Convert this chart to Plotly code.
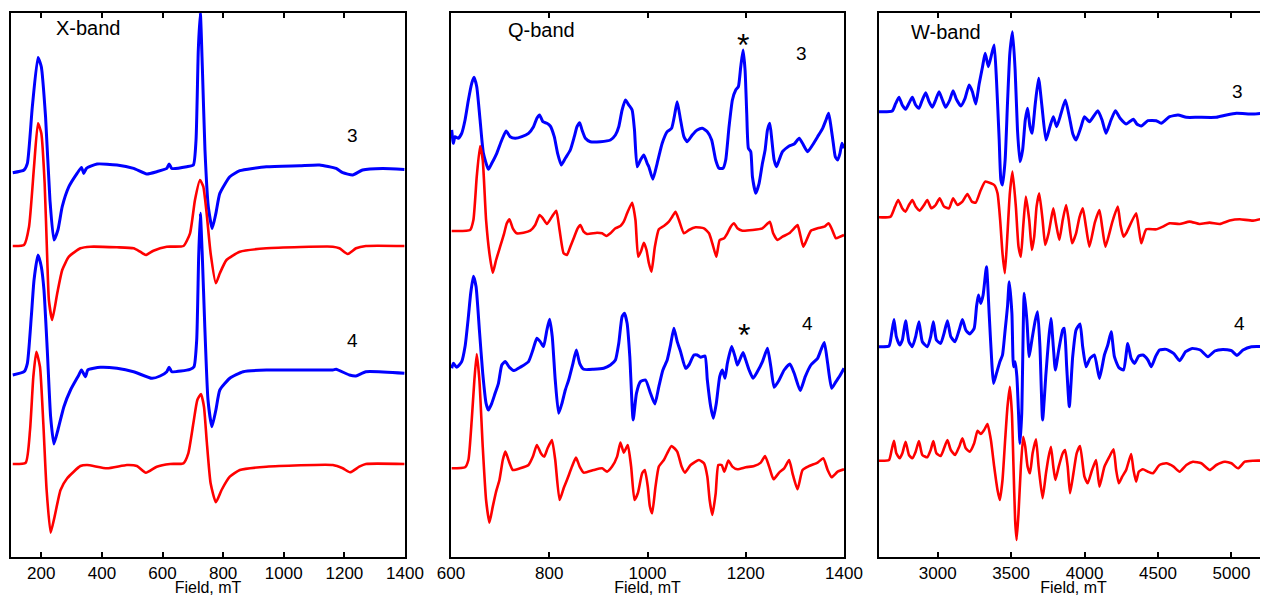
import plotly.graph_objects as go

# ---------------- data (field in mT, intensity in arbitrary units relative to baseline) -------------
# X-band
x_blue3 = [(105.8,0),(143,2.7),(154,9.3),(170.4,66),(189,115.3),(200,106),(214,56),(228.5,-27.3),(241.6,-67.3),
           (254.8,-57.3),(269,-34),(291,-14),(318,-0.7),(332.5,5.3),(340,-0.7),(349,4.3),(384,8.7),(449.7,7.7),
           (504.5,4.3),(548,-1.3),(581,1),(614,4.3),(621.7,8.7),(630.5,4.3),(680,6),(701.7,7.7),(710.5,32.7),
           (718,122.7),(724.7,160),(731.3,106),(740,22.7),(751,-34),(764,-55.7),(776,-40.7),(789,-20.7),(822,-4),
           (855,2),(942.7,6),(1052,7),(1118,7.7),(1172.7,4.3),(1194.6,0),(1227.5,-2.3),(1260,2.7),(1326,4.3),(1398,3.3)]
x_red3 = [(105.8,0),(143,1),(159.5,19.3),(176,79.3),(189,122.7),(200,112.7),(211,62.7),(219.7,-14),(225,-54),
          (236,-74),(252.6,-47.3),(269,-24),(291,-10.7),(329,-2.3),(362,-0.7),(449.7,-1.3),(504.5,-2.3),(526,-5.7),
          (545,-9),(570,-4.7),(614,-0.7),(669,0),(690.7,12.7),(707,46),(723.6,66),(734.5,59.3),(745.5,32.7),
          (758.6,-7.3),(776,-37.3),(789,-27.3),(811,-14),(855,-5.7),(942.7,-2.3),(1161.8,-0.7),(1183.6,-2.3),
          (1211,-8),(1238.4,-2.3),(1271,0),(1398,0)]
x_blue4 = [(105.8,-1),(143,2.3),(154,10.7),(167,57.3),(176,94),(189,119),(200,107.3),(208.8,84),(219.7,24),
           (230.7,-42.7),(241.6,-70),(254.8,-56),(274.5,-32.7),(296.4,-16),(323.8,-1),(332.5,4),(345.7,-2.7),
           (353.4,4),(395,6.7),(449.7,5.7),(504.5,2.3),(564.8,-4.3),(592,-2),(614,2.3),(621.7,6.7),(630.5,2.3),
           (690.7,4.7),(703.9,7.3),(712.7,34),(719.2,117.3),(724.7,160.7),(731.3,117.3),(739,50.7),(750,-26),
           (763,-52.7),(776,-36),(789,-16),(822,-4.3),(866,2.3),(942.7,4),(1161.8,4),(1172.7,4.7),(1216.6,-1),
           (1238.4,-2),(1271,2.3),(1398,0.7)]
x_red4 = [(105.8,0),(148.5,1.3),(162.8,34),(173.7,87.3),(183.6,112.3),(195.6,97.3),(206.6,40.7),(217.5,-26),
          (230.7,-68.7),(243.8,-52.7),(263.5,-26),(285.4,-14.3),(329,-2),(351,-1),(417,-4.3),(482.6,-1),
          (515.5,-2),(545,-8.7),(581,-2.7),(625,0),(668.8,0.7),(685,10.7),(701.7,40.7),(714.8,64),(726.9,70),
          (736.7,57.3),(745.5,24),(758.6,-19.3),(776,-38.3),(794.8,-26),(822,-12.7),(855,-6),(942.7,-2.7),
          (1161.8,-1),(1194.6,-4.3),(1218.7,-8.3),(1249,-2.7),(1271,0),(1398,0)]

# Q-band
q_blue3 = [(601.4,5),(604.8,-8.3),(608.2,-1.7),(615,-3.3),(621.8,1.7),(628.6,15),(635.4,35),(642.2,51.7),
           (646.9,57.7),(652.4,48.3),(659.2,15),(666,-18.3),(676.2,-34.3),(683,-28.3),(693.2,-18.3),(703.4,-5),
           (712.2,4),(720.4,-1.7),(730.6,-3.3),(744.2,-1.7),(757.8,1.7),(768,8.3),(774.8,16.7),(780.3,20),
           (787.1,13.3),(795.2,11.7),(802,9),(810.2,-1.7),(817,-18.3),(824.5,-30),(832.7,-23.3),(842.9,-15),
           (851,-1.7),(856.5,8.3),(861.9,12.3),(866.7,5),(873.5,-3.3),(883.7,-6.7),(904.1,-6.7),(924.5,-5),
           (934.7,0),(941.5,8.3),(948.3,25),(955.1,35),(961.9,30),(968.7,25),(973.5,5),(978.9,-31.7),(985.7,-25),
           (992.5,-20),(999.3,-28.3),(1002.7,-31.7),(1010.9,-44.3),(1019.7,-28.3),(1029.9,-8.3),(1040.1,3.3),
           (1049,6.7),(1055.8,21.7),(1060.5,33.3),(1067.3,15),(1074.1,-1.7),(1080.9,-6.7),(1091.1,0),(1101.3,5),
           (1111.6,6.7),(1121.8,3.3),(1130.6,-5),(1138.8,-25),(1145.6,-33.3),(1153.7,-33.3),(1159.2,-25),
           (1166,8.3),(1172.8,35),(1179.6,45),(1185,48.3),(1189.8,68.3),(1194.5,85),(1198.6,65),(1202,21.7),
           (1205.4,-13.3),(1210.2,-16.7),(1213.6,-41.7),(1220.4,-58.3),(1227.2,-48.3),(1234,-28.3),(1239.4,-15),
           (1244.2,5),(1249,11.7),(1253.1,-5),(1257.8,-25),(1262.6,-31.7),(1268,-25),(1274.8,-16.7),(1288.4,-11),
           (1298.6,-9),(1308.8,-3.3),(1315.6,-8.3),(1325.8,-16.7),(1336,-10),(1346.3,-1.7),(1356.5,6.7),
           (1363.3,15),(1368.7,21.7),(1373.5,8.3),(1378.2,-8.3),(1382.3,-21.7),(1387.1,-25),(1391.8,-18.3),
           (1395.9,-8.3),(1400,-13.3)]
q_red3 = [(601.4,0),(638.8,1),(645.6,11),(652.4,54.3),(659.2,85),(664.6,71),(671.4,11),(678.2,-22.3),(685,-41.7),
          (691.8,-29),(700,-15.7),(708.2,-2.3),(713.6,7.7),(719,11.7),(725.8,2.7),(734,-2.3),(747.6,-1.7),
          (761.2,0.3),(771.4,6),(780.3,16),(787.1,12.7),(795.2,7),(805.4,14.3),(814.3,20.3),(821,1),(829.3,-22.3),
          (836,-24),(842.9,-15.7),(851,-5.7),(857.8,2.7),(863.3,6),(870.1,-0.7),(876.9,-3),(897.3,-1.7),
          (907.5,-2.3),(916.3,-5),(924.5,-2.3),(934.7,2.7),(944.9,5),(951.7,9.3),(958.5,17.7),(968.7,28.3),
          (975.5,11),(981,-25.7),(987,-20),(992.5,-11.7),(998,-19),(1002.7,-32),(1008.1,-40.7),(1015,-15.7),
          (1023.1,1.7),(1033.3,5),(1043.5,9.3),(1050.3,14.3),(1057.1,19.3),(1063.9,11),(1074.1,-2.3),(1084.3,1),
          (1098,3.7),(1115,2.7),(1125.2,-2.3),(1132,-12.3),(1140.1,-25.7),(1147,-9),(1155.8,-7.3),(1162.6,-2.3),
          (1169.4,4.3),(1176.2,7.7),(1183,2.7),(1193.2,0.3),(1213.6,1),(1234,2.7),(1249,9.3),(1255.8,-2.3),
          (1264.6,-9),(1274.8,-5.7),(1288.4,-2.3),(1298.6,2.7),(1305.4,6),(1310.2,-2.3),(1317,-15.7),
          (1322.4,-10.7),(1332.6,0.3),(1346.3,2.7),(1359.9,4.3),(1368.7,7.7),(1375.5,1.7),(1383.7,-7.3),
          (1391.8,-5.7),(1400,-4)]
q_blue4 = [(601.4,0),(604.8,5),(611.6,1),(621.8,6.7),(628.6,21.7),(635.4,51.7),(640.1,75),(645.6,92),(651,81.7),
           (657.8,38.3),(664.6,-5),(671.4,-35),(676.2,-41.7),(683,-35),(689.8,-25),(696.6,-15),(703.4,3.3),
           (710.2,6.7),(719,1),(728.6,-2.3),(740.8,1),(757.8,6.7),(766.7,18.3),(774.8,30),(781.6,26.7),
           (788.4,21.7),(795.2,38.3),(800.7,49),(806.1,31.7),(812.2,-11.7),(819.1,-45),(825.9,-35),(832.7,-21.7),
           (839.5,-11.7),(848.3,5),(855.1,18.3),(861.9,5),(870.1,-1),(890.5,-1),(910.9,0),(924.5,3.3),(934.7,8.3),
           (941.5,25),(948.3,51.7),(953.1,55),(958.5,45),(964,11.7),(970.8,-51.7),(977.5,-25),(985.7,-13.3),
           (996,-11.7),(1006.1,-25),(1015,-35.7),(1023.1,-18.3),(1031.3,-1.7),(1040.1,8.3),(1046.9,23.3),
           (1053.7,40),(1060.5,26.7),(1067.3,16.7),(1077.5,0),(1084.3,3.3),(1094.5,13.3),(1101.3,13.3),
           (1108.2,11),(1117,12.3),(1121.8,-11.7),(1128.6,-38.3),(1134,-50),(1140.1,-35),(1147,-8.3),(1152.4,-1.7),
           (1157.8,-10),(1162.6,5),(1171.4,21.7),(1178.2,11.7),(1183,3.3),(1187.7,8.3),(1194.5,15.7),(1200,8.3),
           (1206.8,-1.7),(1215,-10),(1223.8,-3.3),(1234,6.7),(1244.2,20),(1251,1.7),(1257.8,-19),(1268,-11.7),
           (1278.2,-1.7),(1289.8,4.3),(1298.6,-5),(1310.9,-22.3),(1321.1,-8.3),(1332.6,3.3),(1346.3,10),
           (1353,18.3),(1359.9,25.7),(1366.7,5),(1374.8,-20),(1383.7,-13.3),(1392.5,-6.7),(1400,0)]
q_red4 = [(601.4,0),(628.6,1),(635.4,8.3),(642.2,48.3),(647.6,88.3),(652.4,114.3),(657.8,88.3),(664.6,21.7),
          (671.4,-31.7),(678.2,-54.3),(685,-38.3),(691.8,-23.3),(698.6,-11.7),(705.4,8.3),(710.8,16.7),(717,8.3),
          (725.8,-1.7),(740.8,0),(757.8,3.3),(766.7,11.7),(774.8,23.3),(783,15),(789.8,11.7),(796.6,20),
          (805.4,28.3),(812.2,8.3),(821,-31.7),(829.3,-20),(837.4,-10),(846.3,1.7),(854.4,10.7),(861.9,1.7),
          (870.1,-4.3),(890.5,-1.7),(907.5,0),(917.7,-3.3),(927.9,1.7),(938.1,11.7),(944.9,25.7),(951.7,15.7),
          (959.9,23.3),(966.7,1.7),(973.5,-31.7),(980.3,-25),(989.1,-5),(994.5,-1.7),(1000.6,-18.3),
          (1004.8,-38),(1009.5,-45),(1016.3,-18.3),(1023.1,1.7),(1033.3,8.3),(1040.1,15),(1049,22.3),
          (1060.5,16.7),(1069.4,1.7),(1076.2,-4.3),(1087.7,3.3),(1104.7,8.3),(1115,5),(1121.8,-8.3),
          (1126.5,-31.7),(1132,-46.7),(1138.8,-25),(1144.2,3.3),(1151,3.3),(1156.4,-3.3),(1164.6,7.7),
          (1172.8,1.7),(1183,-1),(1200,1),(1217,2.3),(1230.6,5.7),(1239.4,12.3),(1247.6,1.7),(1256.5,-11),
          (1268,-4.3),(1278.2,0),(1288.4,8.3),(1295.2,-5),(1305.4,-21),(1315.6,-1.7),(1329.2,2.3),(1346.3,5.7),
          (1357.8,10),(1366.7,-1.7),(1374.8,-9),(1387.1,-3.3),(1400,-1)]

# W-band
w_blue3 = [(2599.6,0.3),(2690,1),(2713,8.3),(2736,14.7),(2758,7),(2781,2.7),(2804,8.7),(2827,14.7),(2849.6,7),
           (2872,3.7),(2895,12),(2918,19.3),(2941,10.3),(2963,4.7),(2986,12),(3009,20.3),(3032,12),(3054,4.7),
           (3082,12),(3104.5,21.3),(3127,12.7),(3157,6),(3186,13.7),(3214,27),(3236,20.3),(3259,8),(3282,28),
           (3305,45.3),(3323,58.7),(3345,45.3),(3368.5,58.7),(3384.5,67),(3400,32),(3418.5,-28),(3430,-68),
           (3441,-73),(3459,-48),(3475,8.7),(3491,58.7),(3509,80.3),(3527,42),(3543,-18),(3560,-49.7),(3578,-38),
           (3596,-8),(3612,3.7),(3628,-14.7),(3642,-21.3),(3664.5,8.7),(3687,33.7),(3710,5.3),(3737,-28),
           (3764,-14.7),(3787,-4.7),(3810,-14.7),(3840,-1.3),(3869,12),(3896,-4.7),(3920,-22),(3942,-28),
           (3976,-14.7),(3999,-4.7),(4033,-9.7),(4090,1.3),(4119,-8),(4146,-21.3),(4180,-8),(4210,1.3),
           (4242,-6.3),(4283,-12),(4306,-9.7),(4333,-7.3),(4356,-12),(4386,-14),(4431,-8.7),(4488,-8.7),
           (4522,-11.3),(4579,-4.7),(4636,-3),(4693,-5.3),(4772,-5.3),(4897,-5.3),(4966,-3),(5034,-1.3),
           (5148,-2),(5249,-0.7)]
w_red3 = [(2600,0),(2679,0.7),(2709,10.7),(2731,17.3),(2758,9),(2781,5.7),(2804,12.3),(2827,17.3),(2849.6,10.7),
          (2877,6.7),(2907,12.3),(2929,17.3),(2956.6,9),(2986,12.3),(3013,19),(3043,10.7),(3077,9),(3104.5,19),
          (3134,12.3),(3168,15.7),(3202,23.3),(3232,15.7),(3259,14.7),(3293,27.3),(3323,35.7),(3362,34),
          (3384.5,32.3),(3407,24),(3425,-2.7),(3441,-36),(3457,-56),(3475,-16),(3491,24),(3509,45.7),(3532,10.7),
          (3550,-29.3),(3566,-39.3),(3582,-9.3),(3600,20.7),(3623,-2.7),(3641,-32.7),(3657,-19.3),(3673,10.7),
          (3691,24),(3714,-2.7),(3732,-27.7),(3755,-16),(3771,-2.7),(3787,9),(3805,-6),(3828,-22.7),(3851,-2.7),
          (3874,12.3),(3892,-2.7),(3915,-26),(3942,-16),(3965,0),(3988,9),(4010,-10),(4033,-29.3),(4070,-5),
          (4101,7.3),(4120,-10),(4142,-29.3),(4190,-4),(4226,10.7),(4245,-8),(4265,-19.3),(4283,-16),(4351,4),
          (4370,-12),(4386,-26),(4420,-12),(4488,-12),(4533,-9.3),(4579,-6),(4647,-6.7),(4715,-4.3),(4783,-6.7),
          (4851,-5.3),(4920,-6.7),(4988,-3.3),(5056,-2),(5148,-3.3),(5249,0)]
w_blue4 = [(2600,0),(2668,0.7),(2686,13.3),(2702,27.3),(2718,10),(2741,1.7),(2759,6.7),(2781,26),(2804,5),
           (2827,0),(2849.6,10),(2872,25),(2895,5),(2929,0),(2952,10),(2970,25),(2991,6.7),(3020,3.3),(3043,13.3),
           (3066,26),(3089,10),(3118,5),(3146,16.7),(3168,27.3),(3191,16.7),(3218,12.7),(3248,18.3),(3264,40),
           (3277,51.7),(3293,43.3),(3309,51.7),(3332,80),(3350,33.3),(3368.5,-16.7),(3380,-36.7),(3400,-26.7),
           (3423,-15),(3441,-8.3),(3459,16.7),(3475,40),(3487,65),(3505,33.3),(3516,-20),(3527,-15),(3539,-30),
           (3552,-73.3),(3560,-96.7),(3572,-66.7),(3589,53.5),(3607,26.7),(3623,-10),(3641,6.7),(3664.5,26.7),
           (3680,35),(3696,0),(3714,-73.3),(3737,-26.7),(3755,6.7),(3771,28.3),(3787,0),(3801,-23.3),(3824,-3.3),
           (3851,16.7),(3862,18.3),(3878,-20),(3896,-60),(3919,-10),(3942,16.7),(3969,22.7),(3987,0),(4010,-20),
           (4037,-11.7),(4067,-8.3),(4101,-31.7),(4135,-8.3),(4158,1.7),(4181,15),(4203,-10),(4233,-20.7),
           (4265,-23.3),(4294,3.3),(4317,-11.7),(4340,-16.7),(4369,-9.3),(4397,-8.3),(4431,-13.3),(4454,-20),
           (4483,-10),(4510,-3.3),(4556,-2.7),(4606,-6.7),(4647,-14),(4688,-5),(4733,-1.7),(4788,-3.3),(4840,-10),
           (4886,-4.3),(4942,-2.7),(5000,-4),(5038,-8.7),(5079,-3.3),(5136,0),(5249,0)]
w_red4 = [(2600,-0.7),(2668,0),(2686,10),(2702,19.3),(2718,6.7),(2741,1.7),(2759,6.7),(2781,18.3),(2804,5),
          (2827,1.7),(2849.6,8.3),(2872,19),(2895,5),(2929,2.7),(2952,10),(2970,19),(2991,6.7),(3020,4),(3043,11.7),
          (3066,20),(3089,10),(3118,5),(3146,13.3),(3168,21.7),(3191,11.7),(3218,8.3),(3248,16.7),(3271,29.3),
          (3293,26),(3316,30),(3339,36),(3362,20),(3384.5,-6.7),(3407,-30),(3423,-40),(3441,-20),(3459,20),
          (3475,53.3),(3491,73.3),(3505,46.7),(3516,-6.7),(3527,-60),(3537,-80),(3550,-53.3),(3566,-6.7),
          (3582,23.3),(3596,13.3),(3612,-6.7),(3628,-13.3),(3646,6.7),(3669,20.7),(3687,-6.7),(3714,-38.3),
          (3737,-13.3),(3755,3.3),(3771,13.3),(3787,-6.7),(3801,-20),(3824,-6.7),(3851,6.7),(3867,10),(3885,-6.7),
          (3901,-33.3),(3924,-13.3),(3946,6.7),(3969,14),(3999,-16.7),(4021,-23.3),(4051,-10),(4078,0),
          (4101,-26.7),(4135,-6.7),(4169,3.3),(4197,10.7),(4215,-10),(4233,-23.3),(4256,-16.7),(4283,-10),
          (4317,6),(4333,-10),(4351,-21.7),(4369,-11.7),(4397,-9.3),(4431,-11.7),(4465,-13.3),(4510,-5),
          (4556,-3.3),(4606,-6.7),(4647,-11.7),(4693,-5),(4738,-1.7),(4795,-3.3),(4852,-10),(4897,-5),(4954,-1.7),
          (5000,-3.3),(5045,-8.3),(5091,-1.7),(5148,-0.7),(5249,-0.7)]

# stacking offsets of each spectrum baseline (same units as intensity)
offsets = {"X": [384.3, 311, 183, 93], "Q": [422, 326, 188.7, 88.7], "W": [445, 339.7, 210.3, 97]}

x_ticks = [200, 400, 600, 800, 1000, 1200, 1400]
q_ticks = [600, 800, 1000, 1200, 1400]
w_ticks = [3000, 3500, 4000, 4500, 5000]

# ---------------- figure -------------
# the page body adds an 8 px margin, so the figure is 8 px smaller than the window
W, H = 1260, 588
BLUE, RED = "#0000ff", "#ff0000"
FONT = "Liberation Sans, Arial, Helvetica, sans-serif"

panels = [
    dict(key="X", data=[x_blue3, x_red3, x_blue4, x_red4], rng=[100, 1400], ticks=x_ticks,
         dom=[3 / W, 397 / W], ymirror=True),
    dict(key="Q", data=[q_blue3, q_red3, q_blue4, q_red4], rng=[600, 1400], ticks=q_ticks,
         dom=[443 / W, 836 / W], ymirror=True),
    dict(key="W", data=[w_blue3, w_red3, w_blue4, w_red4], rng=[2600, 5249], ticks=w_ticks,
         dom=[871 / W, 1.0], ymirror=False),
]

fig = go.Figure()
for i, p in enumerate(panels):
    xa = "x" if i == 0 else f"x{i+1}"
    ya = "y" if i == 0 else f"y{i+1}"
    for j, series in enumerate(p["data"]):
        fx = [a for a, b in series]
        fy = [b + offsets[p["key"]][j] for a, b in series]
        color = BLUE if j % 2 == 0 else RED
        fig.add_trace(go.Scatter(x=fx, y=fy, mode="lines", xaxis=xa, yaxis=ya,
                                 line=dict(color=color, width=3 if color == BLUE else 2.6,
                                           shape="spline", smoothing=0.5),
                                 hoverinfo="skip", showlegend=False))
    axkey = "xaxis" if i == 0 else f"xaxis{i+1}"
    aykey = "yaxis" if i == 0 else f"yaxis{i+1}"
    fig.update_layout(**{
        axkey: dict(domain=p["dom"], range=p["rng"], anchor=ya, showline=True, linecolor="black", linewidth=2,
                    mirror="ticks", ticks="inside", ticklen=5, tickwidth=1.5, tickcolor="black",
                    tickvals=p["ticks"], tickfont=dict(family=FONT, size=17, color="black"),
                    title=dict(text="Field, mT", font=dict(family=FONT, size=16, color="black"), standoff=0),
                    showgrid=False, zeroline=False, automargin=False),
        aykey: dict(domain=[0, 1], range=[0, 544], anchor=xa, showline=True, linecolor="black", linewidth=2,
                    mirror=p["ymirror"], ticks="", showticklabels=False, showgrid=False, zeroline=False,
                    automargin=False),
    })

# text labels: (panel index, field, height, text, size)
labels = [
    (0, 355, 529, "X-band", 20), (0, 1226, 422, "3", 19), (0, 1226, 217, "4", 19),
    (1, 784, 527, "Q-band", 20), (1, 1314, 504, "3", 19), (1, 1326, 234, "4", 19),
    (1, 1194.5, 512, "*", 32), (1, 1196.5, 222, "*", 32),
    (2, 3057, 525, "W-band", 20), (2, 5041, 466, "3", 19), (2, 5057, 234, "4", 19),
]
for i, x, y, t, s in labels:
    fig.add_annotation(x=x, y=y, text=t, showarrow=False,
                       xref="x" if i == 0 else f"x{i+1}", yref="y" if i == 0 else f"y{i+1}",
                       font=dict(family=FONT, size=s, color="black"))

fig.update_layout(width=W, height=H, margin=dict(l=0, r=0, t=5, b=39, autoexpand=False),
                  plot_bgcolor="white", paper_bgcolor="white", showlegend=False)
fig.write_html("out.html")
